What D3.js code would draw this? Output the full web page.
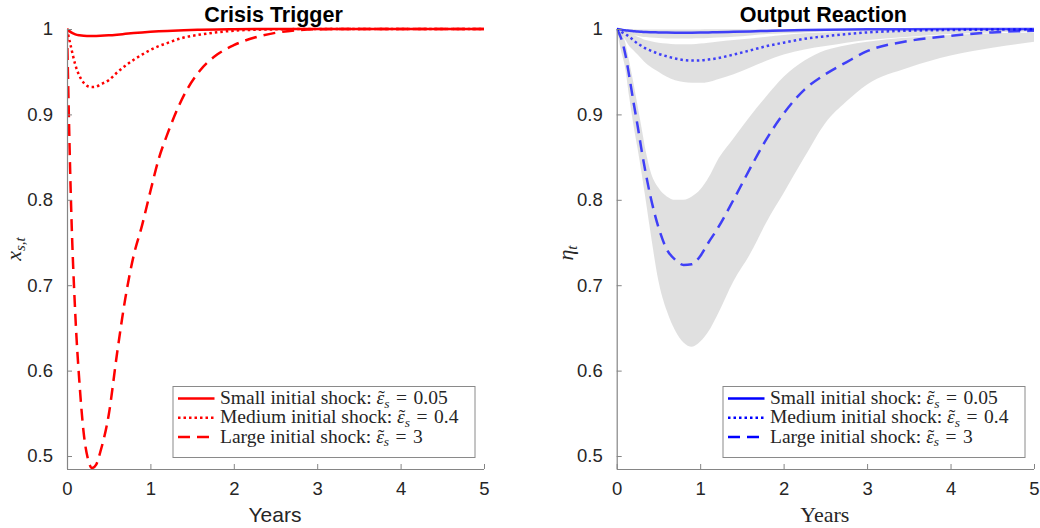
<!DOCTYPE html>
<html>
<head>
<meta charset="utf-8">
<script src="https://cdn.jsdelivr.net/npm/d3@7"></script>
<style>
  html, body { margin: 0; padding: 0; background: #fff; }
  svg { display: block; }
</style>
</head>
<body>
<svg id="chart" width="1040" height="528"></svg>
<script>
// Time grid (years after the shock)
const years = [0, 0.05, 0.1, 0.15, 0.2, 0.25, 0.3, 0.35, 0.4, 0.5, 0.6, 0.7, 0.8, 0.9, 1.0,
  1.1, 1.2, 1.4, 1.6, 1.8, 2.0, 2.25, 2.5, 2.75, 3.0, 3.5, 4.0, 4.5, 5.0];

// Crisis trigger x_{s,t}
const crisisSmall = [1, 0.996, 0.9937, 0.9926, 0.992, 0.9918, 0.9917, 0.9918, 0.992, 0.9926, 0.9934,
  0.9943, 0.9952, 0.996, 0.9967, 0.9973, 0.9978, 0.9986, 0.9991, 0.9995, 0.9997, 0.9999, 1, 1, 1, 1, 1, 1, 1];
const crisisMedium = [1, 0.978, 0.958, 0.945, 0.937, 0.933, 0.932, 0.9325, 0.935, 0.940, 0.949,
  0.957, 0.964, 0.970, 0.9755, 0.980, 0.9835, 0.990, 0.9935, 0.9962, 0.998, 0.9991, 0.9996, 0.9999, 1, 1, 1, 1, 1];
const crisisLarge = [1, 0.79, 0.665, 0.585, 0.527, 0.497, 0.486, 0.49, 0.505, 0.548, 0.62,
  0.685, 0.735, 0.77, 0.81, 0.848, 0.876, 0.922, 0.952, 0.97, 0.981, 0.99, 0.9955, 0.9985, 0.9997, 1, 1, 1, 1];

// Output reaction eta_t (median paths)
const outputSmall = [1, 0.9993, 0.9985, 0.998, 0.9975, 0.997, 0.9967, 0.9964, 0.9962, 0.996, 0.9958,
  0.9957, 0.9957, 0.9957, 0.9958, 0.996, 0.9962, 0.9967, 0.9972, 0.9977, 0.9982, 0.9987, 0.9991, 0.9994, 0.9996, 0.9998, 0.9999, 1, 1];
const outputMedium = [1, 0.997, 0.994, 0.991, 0.987, 0.983, 0.980, 0.977, 0.975, 0.971, 0.968,
  0.9655, 0.9637, 0.963, 0.9632, 0.9642, 0.9657, 0.970, 0.975, 0.980, 0.984, 0.9885, 0.9915, 0.994, 0.996, 0.998, 0.9988, 0.9993, 0.9996];
const outputLarge = [1, 0.99, 0.972, 0.945, 0.915, 0.887, 0.857, 0.83, 0.806, 0.768, 0.742,
  0.730, 0.7238, 0.7245, 0.734, 0.75, 0.765, 0.80, 0.837, 0.872, 0.901, 0.929, 0.947, 0.961, 0.974, 0.986, 0.992, 0.996, 0.998];

// Output reaction bands (lower / upper)
const bandSmallLo = [1, 0.998, 0.996, 0.9945, 0.993, 0.992, 0.991, 0.9905, 0.990, 0.9895, 0.989,
  0.989, 0.989, 0.989, 0.9892, 0.9895, 0.990, 0.991, 0.9925, 0.994, 0.995, 0.996, 0.997, 0.9975, 0.998, 0.9988, 0.9993, 0.9996, 0.9998];
const bandSmallHi = [1, 1, 0.9998, 0.9997, 0.9996, 0.9995, 0.9995, 0.9995, 0.9995, 0.9995, 0.9995,
  0.9995, 0.9995, 0.9995, 0.9995, 0.9996, 0.9996, 0.9997, 0.9998, 0.9998, 0.9999, 0.9999, 1, 1, 1, 1, 1, 1, 1];
const bandMediumLo = [1, 0.994, 0.988, 0.98, 0.975, 0.97, 0.965, 0.96, 0.956, 0.95, 0.944,
  0.94, 0.938, 0.937, 0.937, 0.938, 0.941, 0.947, 0.955, 0.963, 0.97, 0.976, 0.98, 0.984, 0.987, 0.991, 0.994, 0.996, 0.997];
const bandMediumHi = [1, 0.999, 0.997, 0.995, 0.993, 0.991, 0.989, 0.987, 0.986, 0.984, 0.983,
  0.982, 0.982, 0.982, 0.983, 0.984, 0.985, 0.987, 0.989, 0.991, 0.993, 0.995, 0.996, 0.997, 0.998, 0.999, 0.9995, 1, 1];
const bandLargeLo = [1, 0.975, 0.955, 0.92, 0.888, 0.86, 0.83, 0.798, 0.765, 0.705, 0.67,
  0.647, 0.633, 0.628, 0.634, 0.646, 0.664, 0.705, 0.737, 0.775, 0.808, 0.85, 0.89, 0.915, 0.935, 0.955, 0.969, 0.978, 0.985];
const bandLargeHi = [1, 0.997, 0.985, 0.962, 0.937, 0.91, 0.883, 0.856, 0.835, 0.814, 0.804,
  0.800, 0.800, 0.804, 0.812, 0.826, 0.845, 0.872, 0.898, 0.922, 0.944, 0.963, 0.975, 0.981, 0.985, 0.99, 0.993, 0.995, 0.996];

// Legend text and axis ticks
const legendLabels = ["Small initial shock: ", "Medium initial shock: ", "Large initial shock: "];
const shockSizes = ["0.05", "0.4", "3"];
const xTicks = [0, 1, 2, 3, 4, 5];
const yTicks = [0.5, 0.6, 0.7, 0.8, 0.9, 1];

const svg = d3.select("#chart");
const sans = "'Liberation Sans', Arial, Helvetica, sans-serif";
const serif = "'Liberation Serif', 'Times New Roman', serif";
const axisColor = "#858585";
const textColor = "#262626";
const dashStyles = [null, "2.5,3", "12,7"];

function drawPanel(opts) {
  const x = d3.scaleLinear().domain([0, 5]).range([opts.left, opts.right]);
  const y = d3.scaleLinear().domain([0.4848, 1]).range([469, 29]);
  const g = svg.append("g");

  const clipId = "clip-" + opts.id;
  svg.append("clipPath").attr("id", clipId)
    .append("rect").attr("x", opts.left).attr("y", 20)
    .attr("width", opts.right - opts.left + 4).attr("height", 469 - 20);

  const plot = g.append("g").attr("clip-path", `url(#${clipId})`);

  // shaded bands
  if (opts.bands) {
    const area = d3.area()
      .x((d, i) => x(years[i]))
      .y0(d => y(d[0]))
      .y1(d => y(d[1]))
      .curve(d3.curveMonotoneX);
    opts.bands.forEach(b => {
      plot.append("path")
        .datum(b[0].map((v, i) => [v, b[1][i]]))
        .attr("d", area)
        .attr("fill", "#c6c6c6")
        .attr("fill-opacity", 0.55)
        .attr("stroke", "none");
    });
  }

  const line = d3.line()
    .x((d, i) => x(years[i]))
    .y(d => y(d))
    .curve(d3.curveMonotoneX);

  opts.series.forEach((s, k) => {
    plot.append("path")
      .datum(s)
      .attr("d", line)
      .attr("fill", "none")
      .attr("stroke", opts.color)
      .attr("stroke-opacity", opts.lineOpacity)
      .attr("stroke-width", 2.5)
      .attr("stroke-dasharray", dashStyles[k])
      .attr("stroke-linecap", "butt");
  });

  // axes
  const xAxis = d3.axisBottom(x).tickValues(xTicks).tickFormat(d3.format("d"))
    .tickSizeInner(-5).tickSizeOuter(0).tickPadding(13);
  const yAxis = d3.axisLeft(y).tickValues(yTicks).tickFormat(d => d === 1 ? "1" : d3.format(".1f")(d))
    .tickSizeInner(-5).tickSizeOuter(0).tickPadding(14);

  const gx = g.append("g").attr("transform", "translate(0,469)").call(xAxis);
  const gy = g.append("g").attr("transform", `translate(${opts.left},0)`).call(yAxis);
  [gx, gy].forEach(a => {
    a.select(".domain").attr("stroke", axisColor).attr("stroke-width", 1.2);
    a.selectAll(".tick line").attr("stroke", axisColor).attr("stroke-width", 1);
    a.selectAll(".tick text").attr("fill", textColor)
      .style("font-family", sans).style("font-size", "18.5px");
  });
  gy.select(".domain").attr("d", `M0.5,469V29`);
  gx.select(".domain").attr("d", `M${opts.left},0.5H${opts.right}`);

  // title
  g.append("text")
    .attr("x", (opts.left + opts.right) / 2 - 2)
    .attr("y", 21.5)
    .attr("text-anchor", "middle")
    .style("font-family", sans).style("font-weight", "bold").style("font-size", "21.5px")
    .attr("fill", "#000")
    .text(opts.title);

  // x label
  g.append("text")
    .attr("x", (opts.left + opts.right) / 2 - 0.5)
    .attr("y", 522)
    .attr("text-anchor", "middle")
    .style("font-family", opts.xLabelSerif ? serif : sans)
    .style("font-size", opts.xLabelSerif ? "22px" : "21px")
    .attr("fill", textColor)
    .text("Years");

  // y label (math)
  const yl = g.append("text")
    .attr("transform", `translate(${opts.yLabelX},${opts.yLabelY}) rotate(-90)`)
    .attr("text-anchor", "middle")
    .style("font-family", serif).style("font-style", "italic")
    .attr("fill", textColor);
  yl.append("tspan").style("font-size", "22px").text(opts.yLabel[0]);
  yl.append("tspan").style("font-size", "15px").attr("dy", 4).text(opts.yLabel[1]);

  // legend
  const lx = opts.legendX, ly = 386;
  const leg = g.append("g");
  leg.append("rect")
    .attr("x", lx + 0.5).attr("y", ly + 0.5)
    .attr("width", 302).attr("height", 71)
    .attr("fill", "#fff").attr("stroke", "#8a8a8a").attr("stroke-width", 1);
  legendLabels.forEach((lab, k) => {
    const cy = ly + 12.5 + k * 19.3;
    leg.append("line")
      .attr("x1", lx + 5.5).attr("x2", lx + 42)
      .attr("y1", cy).attr("y2", cy)
      .attr("stroke", opts.color).attr("stroke-width", 2.5)
      .attr("stroke-dasharray", dashStyles[k]);
    const t = leg.append("text")
      .attr("x", lx + 47.5).attr("y", cy + 5.5)
      .style("font-family", serif).style("font-size", "19.5px")
      .attr("fill", textColor);
    t.append("tspan").text(lab);
    t.append("tspan").style("font-style", "italic").text("\u03B5");
    const tilde = t.append("tspan").text("\u02DC");
    const sub = t.append("tspan").style("font-style", "italic").style("font-size", "13.5px")
      .attr("dy", 3.5).text("s");
    t.append("tspan").attr("dy", -3.5).text("\u2004=\u2004" + shockSizes[k]);

    // centre the tilde accent over the epsilon, then step back for the subscript
    const n = t.node();
    const e = n.getExtentOfChar(lab.length);
    const td = n.getExtentOfChar(lab.length + 1);
    const shift = (e.x + e.width / 2 + 1) - (td.x + td.width / 2);
    tilde.attr("dx", shift);
    sub.attr("dx", -(td.width + shift));
  });
}

drawPanel({
  id: "crisis", left: 67, right: 484, title: "Crisis Trigger",
  series: [crisisSmall, crisisMedium, crisisLarge],
  color: "#ff0000", lineOpacity: 1,
  yLabel: ["x", "s,t"], yLabelX: 21, yLabelY: 249,
  legendX: 172.5, xLabelSerif: false
});

drawPanel({
  id: "output", left: 616.7, right: 1034, title: "Output Reaction",
  series: [outputSmall, outputMedium, outputLarge],
  bands: [[bandSmallLo, bandSmallHi], [bandMediumLo, bandMediumHi], [bandLargeLo, bandLargeHi]],
  color: "#0000ff", lineOpacity: 0.72,
  yLabel: ["\u03B7", "t"], yLabelX: 573, yLabelY: 253,
  legendX: 722.5, xLabelSerif: true
});
</script>
</body>
</html>
